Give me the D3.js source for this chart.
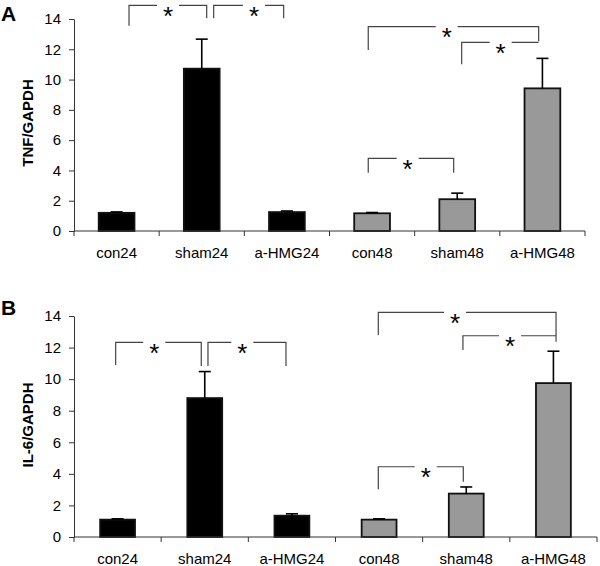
<!DOCTYPE html>
<html>
<head>
<meta charset="utf-8">
<script src="https://cdn.jsdelivr.net/npm/d3@7"></script>
<style>
  html, body { margin: 0; padding: 0; background: #fff; }
  svg { display: block; }
  text { font-family: Arial, "Liberation Sans", sans-serif; }
</style>
</head>
<body>
<svg id="chart" width="600" height="566"></svg>
<script>
// ---------- data ----------
const categories = ["con24", "sham24", "a-HMG24", "con48", "sham48", "a-HMG48"];
const barFills = ["#000000", "#000000", "#000000", "#999999", "#999999", "#999999"];
const yTicks = [0, 2, 4, 6, 8, 10, 12, 14];

const tnfMeans  = [1.2, 10.72, 1.25, 1.17, 2.1, 9.42];
const tnfErrors = [0.06, 1.95, 0.07, 0.05, 0.4, 1.98];

const il6Means  = [1.1, 8.8, 1.35, 1.1, 2.75, 9.75];
const il6Errors = [0.05, 1.68, 0.12, 0.05, 0.42, 2.02];

// significance brackets: x in category units (0..6), y in value units
const tnfBrackets = [
  { x1: 0.646, x2: 1.558, y: 14.9, y1: 13.56, y2: 14.05, xs: 1.104 },
  { x1: 1.640, x2: 2.462, y: 14.9, y1: 14.05, y2: 14.05, xs: 2.113 },
  { x1: 3.455, x2: 5.456, y: 13.49, y1: 11.96, y2: 12.53, xs: 4.376 },
  { x1: 4.552, x2: 5.456, y: 12.46, y1: 11.01, y2: 12.46, xs: 5.010 },
  { x1: 3.455, x2: 4.458, y: 4.80,  y1: 3.85,  y2: 3.85,  xs: 3.918 }
];
const il6Brackets = [
  { x1: 0.478, x2: 1.460, y: 12.33, y1: 10.89, y2: 10.83, xs: 0.921 },
  { x1: 1.537, x2: 2.432, y: 12.33, y1: 10.83, y2: 10.83, xs: 1.931 },
  { x1: 3.491, x2: 5.530, y: 14.23, y1: 12.79, y2: 12.37, xs: 4.371 },
  { x1: 4.462, x2: 5.530, y: 12.75, y1: 11.84, y2: 12.75, xs: 5.002 },
  { x1: 3.491, x2: 4.466, y: 4.45,  y1: 3.02,  y2: 3.50,  xs: 4.035 }
];

const panels = [
  { letter: "A", yLabel: "TNF/GAPDH", means: tnfMeans, errors: tnfErrors, brackets: tnfBrackets,
    x0: 74, x1: 585, yTop: 19, yBottom: 231, barFrac: 0.42, letterY: 21, labelY: 123 },
  { letter: "B", yLabel: "IL-6/GAPDH", means: il6Means, errors: il6Errors, brackets: il6Brackets,
    x0: 74, x1: 597, yTop: 316, yBottom: 537, barFrac: 0.40, letterY: 315, labelY: 425 }
];

const svg = d3.select("#chart");

panels.forEach(p => {
  const g = svg.append("g");
  const x = d3.scaleBand().domain(categories).range([p.x0, p.x1]).padding(0);
  const xc = d3.scaleLinear().domain([0, categories.length]).range([p.x0, p.x1]);
  const y = d3.scaleLinear().domain([0, 14]).range([p.yBottom, p.yTop]);
  const bw = x.bandwidth() * p.barFrac;

  // panel letter
  g.append("text").attr("x", 1).attr("y", p.letterY)
    .attr("font-size", 21).attr("font-weight", "bold").attr("fill", "#000").text(p.letter);

  // y label
  g.append("text")
    .attr("transform", `translate(33,${p.labelY}) rotate(-90)`)
    .attr("text-anchor", "middle")
    .attr("font-size", 15).attr("font-weight", "bold").attr("fill", "#000")
    .text(p.yLabel);

  // y axis
  const yAxis = d3.axisLeft(y).tickValues(yTicks).tickSize(5).tickSizeOuter(0).tickPadding(8);
  const ya = g.append("g").attr("transform", `translate(${p.x0},0)`).call(yAxis);
  ya.select(".domain").attr("stroke", "#333");
  ya.selectAll(".tick line").attr("stroke", "#333");
  ya.selectAll(".tick text").attr("font-size", 15).attr("fill", "#000")
    .attr("font-family", "Arial, 'Liberation Sans', sans-serif");

  // bars
  g.selectAll(".bar").data(categories).enter().append("rect")
    .attr("x", d => x(d) + (x.bandwidth() - bw) / 2)
    .attr("width", bw)
    .attr("y", (d, i) => y(p.means[i]))
    .attr("height", (d, i) => y(0) - y(p.means[i]))
    .attr("fill", (d, i) => barFills[i])
    .attr("stroke", "#111").attr("stroke-width", 1.8);

  // error bars (upper only)
  categories.forEach((c, i) => {
    const cx = x(c) + x.bandwidth() / 2;
    const top = y(p.means[i] + p.errors[i]);
    g.append("line").attr("x1", cx).attr("x2", cx)
      .attr("y1", y(p.means[i])).attr("y2", top)
      .attr("stroke", "#000").attr("stroke-width", 1.6);
    g.append("line").attr("x1", cx - 6).attr("x2", cx + 6)
      .attr("y1", top).attr("y2", top)
      .attr("stroke", "#000").attr("stroke-width", 1.6);
  });

  // x axis
  const xa = g.append("g").attr("transform", `translate(0,${p.yBottom})`);
  xa.append("line").attr("x1", p.x0).attr("x2", p.x1).attr("y1", 0).attr("y2", 0)
    .attr("stroke", "#333");
  d3.range(categories.length + 1).forEach(k => {
    xa.append("line").attr("x1", xc(k)).attr("x2", xc(k)).attr("y1", 0).attr("y2", 5)
      .attr("stroke", "#333");
  });
  xa.selectAll(".xl").data(categories).enter().append("text")
    .attr("x", d => x(d) + x.bandwidth() / 2)
    .attr("y", 27)
    .attr("text-anchor", "middle")
    .attr("font-size", 15).attr("fill", "#000")
    .text(d => d);

  // significance brackets
  const gap = 11;
  p.brackets.forEach(b => {
    const X1 = xc(b.x1), X2 = xc(b.x2), XS = xc(b.xs), Y = y(b.y);
    const path = d3.path();
    path.moveTo(X1, y(b.y1)); path.lineTo(X1, Y); path.lineTo(XS - gap, Y);
    path.moveTo(XS + gap, Y); path.lineTo(X2, Y); path.lineTo(X2, y(b.y2));
    g.append("path").attr("d", path.toString())
      .attr("fill", "none").attr("stroke", "#444").attr("stroke-width", 1.2);
    g.append("text").attr("x", XS).attr("y", Y + 19.5)
      .attr("text-anchor", "middle").attr("font-size", 26).attr("fill", "#000")
      .text("*");
  });
});
</script>
</body>
</html>
